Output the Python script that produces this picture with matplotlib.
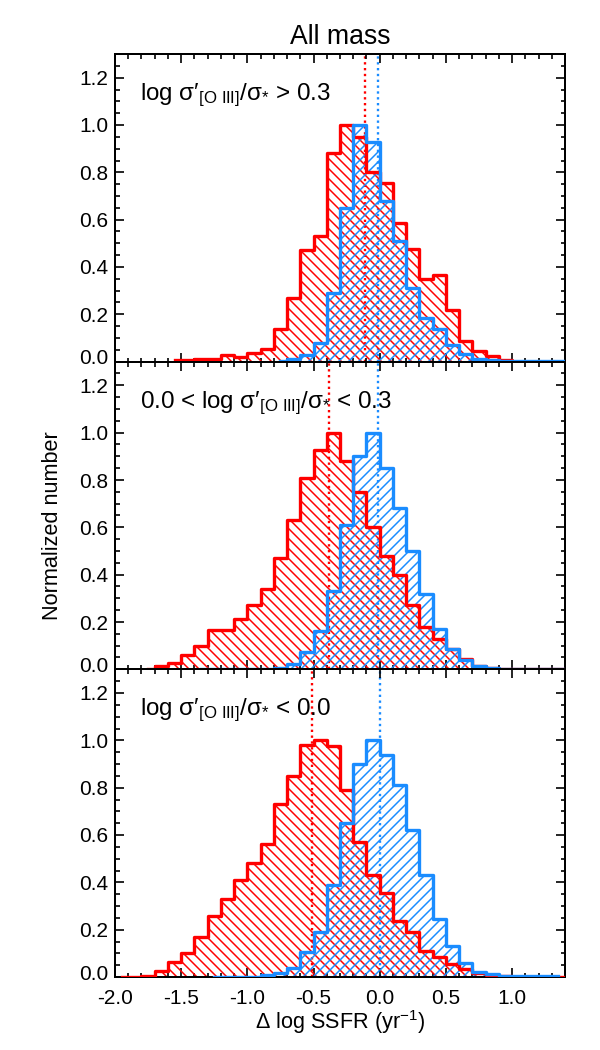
import numpy as np
import matplotlib.pyplot as plt
from matplotlib.ticker import MultipleLocator, FormatStrFormatter
import matplotlib.transforms as mtransforms

plt.rcParams['font.family'] = ['Liberation Sans', 'DejaVu Sans']
plt.rcParams['mathtext.fontset'] = 'custom'
plt.rcParams['mathtext.rm'] = 'Liberation Sans'
plt.rcParams['mathtext.it'] = 'Liberation Sans'
plt.rcParams['mathtext.sf'] = 'Liberation Sans'
plt.rcParams['hatch.linewidth'] = 0.9

RED = '#ff0000'
BLUE = '#1a8cff'
binw = 0.1

labels = ['log σ′$_{[\\mathrm{O\\ III}]}$/σ$_{*}$ > 0.3',
          '0.0 < log σ′$_{[\\mathrm{O\\ III}]}$/σ$_{*}$ < 0.3',
          'log σ′$_{[\\mathrm{O\\ III}]}$/σ$_{*}$ < 0.0']

# first bin centre of each histogram, then normalized counts per 0.1 dex bin
red1_start = -1.55
red1 = [0.005, 0.006, 0.013, 0.013, 0.027, 0.02, 0.038, 0.052, 0.14, 0.27,
        0.47, 0.53, 0.88, 1.0, 0.95, 0.80, 0.755, 0.585, 0.478, 0.35,
        0.365, 0.22, 0.088, 0.045, 0.024, 0.005, 0.0, 0.0, 0.0, 0.0, 0.0]
blue1_start = -0.75
blue1 = [0.003, 0.01, 0.03, 0.077, 0.29, 0.65, 1.0, 0.93, 0.68, 0.51,
         0.31, 0.183, 0.136, 0.07, 0.034, 0.013, 0.006, 0.003, 0.003, 0.003,
         0.003, 0.003, 0.003]

red2_start = -1.75
red2 = [0.003, 0.013, 0.028, 0.062, 0.10, 0.167, 0.167, 0.213, 0.27, 0.34,
        0.47, 0.63, 0.81, 0.926, 1.0, 0.88, 0.75, 0.60, 0.48, 0.40,
        0.27, 0.18, 0.13, 0.085, 0.045, 0.012, 0.006, 0.0, 0.0, 0.0,
        0.0, 0.0, 0.0]
blue2_start = -1.35
blue2 = [0.002, 0.002, 0.002, 0.002, 0.002, 0.002, 0.005, 0.024, 0.073, 0.16,
         0.33, 0.61, 0.90, 1.0, 0.85, 0.68, 0.50, 0.32, 0.17, 0.085,
         0.04, 0.015, 0.005, 0.002, 0.002, 0.002, 0.002, 0.002, 0.002]

red3_start = -1.95
red3 = [0.0, 0.002, 0.005, 0.025, 0.063, 0.102, 0.17, 0.258, 0.33, 0.41,
        0.48, 0.56, 0.73, 0.85, 0.98, 1.0, 0.975, 0.79, 0.57, 0.43,
        0.356, 0.235, 0.19, 0.11, 0.086, 0.056, 0.032, 0.016, 0.008, 0.003,
        0.0, 0.0, 0.0, 0.0, 0.0]
blue3_start = -1.25
blue3 = [0.002, 0.002, 0.002, 0.002, 0.008, 0.016, 0.04, 0.105, 0.19, 0.39,
         0.65, 0.90, 1.0, 0.94, 0.81, 0.62, 0.43, 0.246, 0.13, 0.058,
         0.023, 0.011, 0.005, 0.003, 0.003, 0.003, 0.003]

red_med = [-0.11, -0.38, -0.515]
blue_med = [-0.01, -0.01, 0.0]

reds = [(red1_start, red1), (red2_start, red2), (red3_start, red3)]
blues = [(blue1_start, blue1), (blue2_start, blue2), (blue3_start, blue3)]

fig = plt.figure(figsize=(5, 8.75), dpi=120)
left, width = 115 / 600, 450 / 600
h = (977 - 54) / 3 / 1050
bottom0 = 1 - 977 / 1050

for i in range(3):
    ax = fig.add_axes([left, bottom0 + (2 - i) * h, width, h])
    ax.axvline(red_med[i], color=RED, ls=(0, (1, 1.5)), lw=1.4, zorder=1)
    ax.axvline(blue_med[i], color=BLUE, ls=(0, (1, 1.5)), lw=1.4, zorder=1)
    for (start, vals), col, hat in [(reds[i], RED, '\\\\\\\\'), (blues[i], BLUE, '////')]:
        x = start + binw * np.arange(len(vals))
        ax.fill_between(x, 0, vals, step='mid', facecolor='none',
                        edgecolor=col, lw=0, hatch=hat, zorder=2)
    for (start, vals), col in [(reds[i], RED), (blues[i], BLUE)]:
        x = start + binw * np.arange(len(vals))
        ax.step(x, vals, where='mid', color=col, lw=2.0, zorder=3)

    ax.set_xlim(-2.0, 1.4)
    ax.set_ylim(0, 1.3)
    ax.xaxis.set_major_locator(MultipleLocator(0.5))
    ax.xaxis.set_minor_locator(MultipleLocator(0.1))
    ax.yaxis.set_minor_locator(MultipleLocator(0.05))
    ax.xaxis.set_major_formatter(FormatStrFormatter('%.1f'))
    ax.yaxis.set_major_formatter(FormatStrFormatter('%.1f'))
    ax.set_yticks([0, 0.2, 0.4, 0.6, 0.8, 1.0, 1.2])
    ax.tick_params(which='both', direction='in', top=True, right=True, width=1.0)
    ax.tick_params(which='major', length=5.4)
    ax.tick_params(which='minor', length=2.7)
    ax.tick_params(axis='y', labelsize=12.5, pad=4)
    ax.tick_params(axis='x', labelsize=12.5, pad=7)
    if i < 2:
        ax.tick_params(axis='x', labelbottom=False)
    for s in ax.spines.values():
        s.set_linewidth(1.2)
    ax.text(-1.81, 1.105, labels[i], fontsize=14.5, va='baseline', ha='left')
    lab0 = ax.get_yticklabels()[0]
    lab0.set_transform(lab0.get_transform() +
                       mtransforms.ScaledTranslation(0, 3 / 72, fig.dpi_scale_trans))

fig.text(340 / 600, 1 - 44 / 1050, 'All mass', fontsize=16, ha='center', va='baseline')
fig.text(53 / 600, 0.5 - 0.5 / 1050, 'Normalized number', fontsize=13,
         rotation=90, ha='center', va='center')
fig.text(340 / 600, 1 - 1029 / 1050, r'$\Delta$ log SSFR (yr$^{-1}$)', fontsize=13,
         ha='center', va='baseline')

fig.savefig('out.png', dpi=120)
